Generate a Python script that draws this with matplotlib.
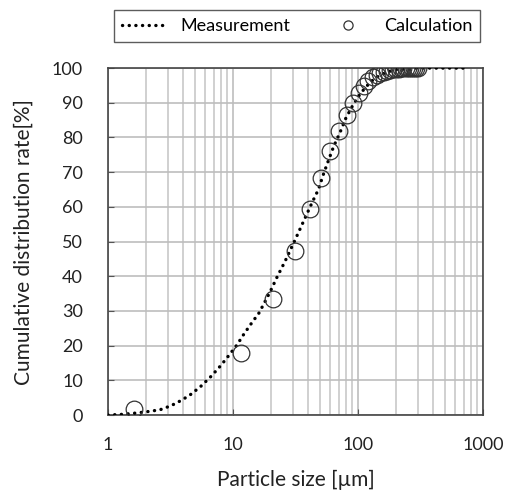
import matplotlib
matplotlib.use("Agg")
import matplotlib.pyplot as plt
import numpy as np

plt.rcParams['font.family'] = ['Lato', 'DejaVu Sans']

# measured cumulative distribution (dotted curve)
meas_size = [1.0, 1.3, 1.6, 2.0, 2.6, 3.2, 3.8, 4.5, 5.5, 6.7, 8.0, 9.0, 10.8, 12.0,
             13.7, 16.2, 19.8, 22.6, 26.0, 31.3, 37.6, 43.0, 48.2, 53.0, 57.9,
             64.0, 71.7, 80.0, 90.0, 100.0, 115.0, 130.0, 150.0, 175.0, 200.0,
             250.0, 300.0, 400.0, 500.0, 720.0]
meas_rate = [0.0, 0.2, 0.5, 0.9, 1.5, 2.7, 4.1, 5.7, 8.2, 11.2, 14.3, 16.6, 20.3, 22.9,
             25.9, 29.5, 35.5, 39.9, 44.2, 50.4, 56.7, 61.3, 65.0, 69.5, 73.3,
             77.5, 81.4, 85.6, 89.0, 91.7, 94.5, 96.4, 98.0, 99.0, 99.5,
             99.8, 100.0, 100.0, 100.0, 100.0]

# calculated points (circles)
calc_size = [1.6, 11.5, 21.0, 31.3, 41.3, 50.6, 60.1, 71.0, 81.0, 91.0, 101.0, 111.0,
             121.0, 131.0, 141.0, 151.0, 161.0, 171.0, 181.0, 191.0, 201.0, 211.0,
             221.0, 231.0, 241.0, 251.0, 261.0, 271.0, 281.0, 291.0, 301.0]
calc_rate = [1.8, 17.8, 33.4, 47.4, 59.3, 68.4, 76.2, 81.8, 86.4, 90.0, 92.8, 94.9,
             96.3, 97.3, 98.0, 98.6, 99.0, 99.3, 99.5, 99.7, 99.8, 99.85,
             99.9, 99.9, 99.95, 99.95, 100.0, 100.0, 100.0, 100.0, 100.0]

fig = plt.figure(figsize=(5.08, 4.90), dpi=100)
ax = fig.add_axes([0.2126, 0.153, 0.7382, 0.708])

line, = ax.plot(meas_size, meas_rate, color='black', lw=2.4,
                linestyle=(0, (0.05, 1.95)), dash_capstyle='round',
                label='Measurement', zorder=3)
pts, = ax.plot(calc_size, calc_rate, linestyle='none', marker='o', ms=12,
               mfc='none', mec='#333333', mew=0.9, label='Calculation', zorder=4)

ax.set_xscale('log')
ax.set_xlim(1, 1000)
ax.set_ylim(0, 100)
ax.set_yticks(np.arange(0, 101, 10))
ax.set_xticks([1, 10, 100, 1000])
ax.set_xticklabels(['1', '10', '100', '1000'])
ax.xaxis.set_minor_formatter(matplotlib.ticker.NullFormatter())

ax.grid(True, which='major', color='#bdbdbd', lw=1.2)
ax.grid(True, which='minor', axis='x', color='#c8c8c8', lw=1.2)
ax.set_axisbelow(True)

ax.tick_params(axis='both', which='major', direction='in', length=4,
               color='#555555', labelsize=13, labelcolor='#222222')
ax.tick_params(axis='y', pad=18)
ax.tick_params(axis='x', pad=16)
ax.tick_params(axis='x', which='minor', length=0)
ax.tick_params(top=False, right=False)
for s in ax.spines.values():
    s.set_color('#444444')
    s.set_linewidth(1.2)

ax.set_xlabel('Particle size [µm]', fontsize=15, color='#222222', labelpad=12)
ax.set_ylabel('Cumulative distribution rate[%]', fontsize=15, color='#222222', labelpad=13)

leg = fig.legend(handles=[line, pts], loc='center',
                 bbox_to_anchor=(0.585, 0.947), ncol=2, fontsize=13,
                 frameon=True, fancybox=False, edgecolor='#333333',
                 handlelength=2.4, columnspacing=2.0, borderpad=0.45,
                 markerscale=0.55)
leg.get_frame().set_linewidth(1.0)

fig.savefig('out.png', dpi=100)
